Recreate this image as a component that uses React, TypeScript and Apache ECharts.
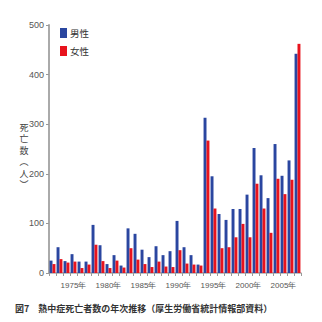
import React, { useEffect, useRef } from "react";
import * as echarts from "echarts";

const years = ["1972","1973","1974","1975","1976","1977","1978","1979","1980","1981","1982","1983","1984","1985","1986","1987","1988","1989","1990","1991","1992","1993","1994","1995","1996","1997","1998","1999","2000","2001","2002","2003","2004","2005","2006","2007"];
const male = [25,52,24,38,23,23,97,56,18,36,15,90,79,47,32,54,36,44,105,52,36,17,313,195,119,107,129,129,158,252,197,151,260,196,227,442];
const female = [18,28,21,23,10,17,57,24,10,25,11,50,27,18,12,23,13,12,46,19,17,15,267,130,50,52,72,99,72,180,130,81,190,159,188,462];
const labeledYears = ["1975","1980","1985","1990","1995","2000","2005"];
const yAxisNameChars = ["死", "亡", "数", "︵", "人", "︶"];
const caption = "図7　熱中症死亡者数の年次推移（厚生労働省統計情報部資料）";

const NARROW = "'Liberation Sans Narrow', 'Liberation Sans', Arial, sans-serif";
const CJK = "'Noto Sans CJK JP', 'Noto Sans', sans-serif";

export default function App() {
  const ref = useRef<HTMLDivElement>(null);
  useEffect(() => {
    document.body.style.margin = "0";
    const chart = echarts.init(ref.current!, null, { renderer: "svg" });
    chart.setOption({
      animation: false,
      backgroundColor: "#ffffff",
      grid: { left: 49, right: 21, top: 25, bottom: 49, containLabel: false },
      legend: {
        orient: "vertical",
        left: 55,
        top: 23,
        itemWidth: 7,
        itemHeight: 10,
        itemGap: 8,
        icon: "rect",
        textStyle: { fontSize: 9.5, color: "#333", fontFamily: CJK, padding: [0, 0, 0, -2] },
        data: ["男性", "女性"],
      },
      xAxis: {
        type: "category",
        data: years,
        boundaryGap: true,
        axisLine: { show: true, lineStyle: { color: "#aaaaaa", width: 1.5 } },
        axisTick: { show: true, interval: 0, length: 3, lineStyle: { color: "#999" } },
        axisLabel: {
          interval: (i: number, v: string) => labeledYears.includes(v),
          formatter: (v: string) => v + "年",
          fontSize: 8,
          color: "#555",
          margin: 8,
          fontFamily: NARROW,
        },
        splitLine: { show: false },
      },
      yAxis: {
        type: "value",
        min: 0,
        max: 500,
        interval: 100,
        axisLine: { show: true, lineStyle: { color: "#aaaaaa", width: 2 } },
        axisTick: { show: true, length: 3, lineStyle: { color: "#999" } },
        axisLabel: { fontSize: 9, color: "#555", margin: 5, fontFamily: NARROW },
        splitLine: { show: false },
      },
      series: [
        {
          name: "男性",
          type: "bar",
          data: male,
          barGap: "0%",
          barCategoryGap: "16%",
          itemStyle: { color: "#2a46a0" },
        },
        {
          name: "女性",
          type: "bar",
          data: female,
          barGap: "0%",
          barCategoryGap: "16%",
          itemStyle: { color: "#e8131d" },
        },
      ],
      graphic: [
        ...yAxisNameChars.map((ch, i) => ({
          type: "text",
          x: 24,
          y: 127 + i * 11.5,
          style: {
            text: ch,
            fontSize: 9,
            fill: "#444",
            fontFamily: CJK,
            align: "center",
            verticalAlign: "middle",
          },
        })),
        {
          type: "text",
          left: 15,
          top: 304,
          style: {
            text: caption,
            fontSize: 9,
            fontWeight: "bold",
            fill: "#333",
            fontFamily: CJK,
          },
        },
      ],
    });
    return () => chart.dispose();
  }, []);
  return <div ref={ref} style={{ width: 322, height: 322 }} />;
}
